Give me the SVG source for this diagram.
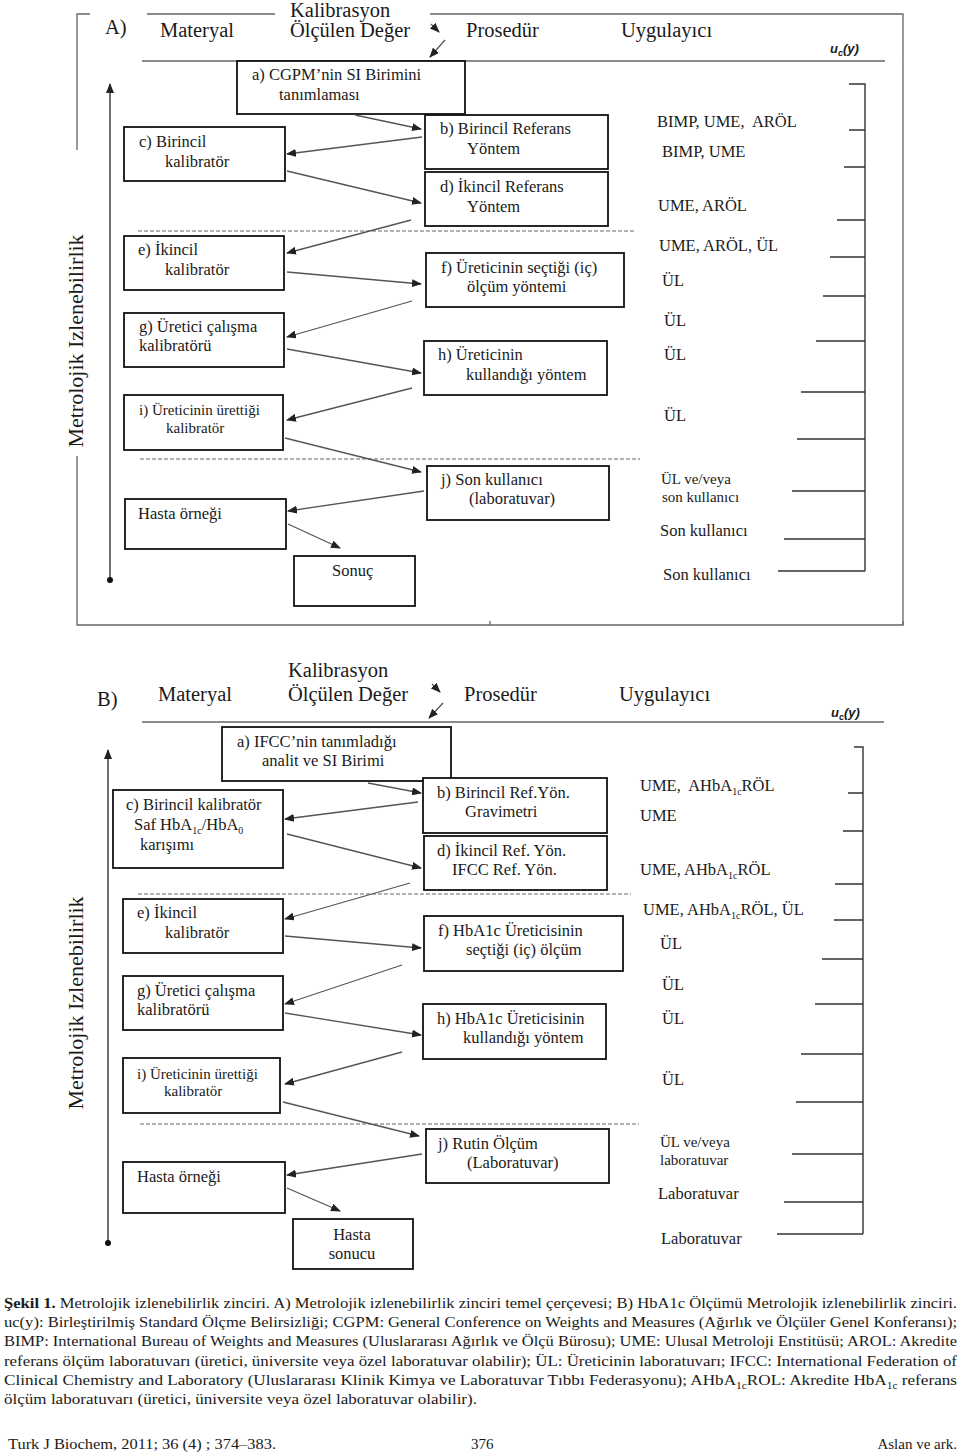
<svg xmlns="http://www.w3.org/2000/svg" width="960" height="1454" viewBox="0 0 960 1454">
<style>
text{font-family:"Liberation Serif","Times New Roman",serif;fill:#1a1a1a}
.h{font-size:20.5px}
.b{font-size:16.5px}
.s{font-size:15px}
.u{font-family:"Liberation Sans",Arial,sans-serif;font-weight:bold;font-style:italic;font-size:13px}
.lab{font-size:22px}
.cap{font-size:15px}
.box{fill:#fff;stroke:#111;stroke-width:1.8}
.conn line{stroke:#555;stroke-width:1.3;marker-end:url(#ah)}
.dash{stroke:#666;stroke-width:1;stroke-dasharray:4 2}
.fr{stroke:#666;stroke-width:1.3;fill:none}
.br{stroke:#333;stroke-width:1.4;fill:none}
.ax{stroke:#333;stroke-width:1.4;marker-end:url(#ah)}
.sub{font-size:10px}
</style>
<defs>
<marker id="ah" markerUnits="userSpaceOnUse" markerWidth="10" markerHeight="8" refX="9" refY="4" orient="auto"><path d="M0,0 L10,4 L0,8 z" fill="#222"/></marker>
</defs>

<!-- ===== Part A frame / header ===== -->
<g id="frameA">
<path class="fr" d="M90,14 H77 V150 M77,456 V625 H903 V14 H430 M147,14 H275 M142,61 H885"/>
<path class="fr" d="M490,625 V621 M903,625 V621"/>
<line class="ax" x1="110" y1="580" x2="110" y2="84"/>
<circle cx="110" cy="580" r="3" fill="#111"/>
<path class="br" d="M849,84 H865 V571 M849,130 H865 M844,167 H865 M837,220 H865 M830,257 H865 M823,296 H865 M816,341 H865 M801,392 H865 M797,439 H865 M792,491 H865 M784,539 H865 M778,571 H865"/>
<line class="dash" x1="138" y1="231" x2="635" y2="231"/>
<line class="dash" x1="140" y1="459" x2="640" y2="459"/>
</g>
<g id="headerA">
<text class="h" x="105" y="34">A)</text>
<text class="h" x="160" y="37">Materyal</text>
<text class="h" x="290" y="17">Kalibrasyon</text>
<text class="h" x="290" y="37">Ölçülen Değer</text>
<text class="h" x="466" y="37">Prosedür</text>
<text class="h" x="621" y="37">Uygulayıcı</text>
<text class="u" x="830" y="53">u<tspan font-size="9" dy="3">c</tspan><tspan dy="-3">(y)</tspan></text>
<text class="lab" transform="translate(83,341) rotate(-90)" text-anchor="middle">Metrolojik Izlenebilirlik</text>
</g>

<g id="A_a"><rect class="box" x="237" y="61" width="228" height="53"/><text class="b" x="252" y="80">a) CGPM’nin SI Birimini</text><text class="b" x="279" y="100">tanımlaması</text></g>
<g id="A_b"><rect class="box" x="425" y="115" width="183" height="54"/><text class="b" x="440" y="134">b) Birincil Referans</text><text class="b" x="467" y="154">Yöntem</text></g>
<g id="A_d"><rect class="box" x="425" y="172" width="183" height="54"/><text class="b" x="440" y="192">d) İkincil Referans</text><text class="b" x="467" y="212">Yöntem</text></g>
<g id="A_c"><rect class="box" x="124" y="127" width="161" height="54"/><text class="b" x="139" y="147">c) Birincil</text><text class="b" x="165" y="167">kalibratör</text></g>
<g id="A_e"><rect class="box" x="124" y="236" width="160" height="54"/><text class="b" x="138" y="255">e) İkincil</text><text class="b" x="165" y="275">kalibratör</text></g>
<g id="A_f"><rect class="box" x="426" y="253" width="198" height="54"/><text class="b" x="441" y="273">f) Üreticinin seçtiği (iç)</text><text class="b" x="467" y="292">ölçüm yöntemi</text></g>
<g id="A_g"><rect class="box" x="124" y="313" width="160" height="54"/><text class="b" x="139" y="332">g) Üretici çalışma</text><text class="b" x="139" y="351">kalibratörü</text></g>
<g id="A_h"><rect class="box" x="424" y="341" width="183" height="54"/><text class="b" x="438" y="360">h) Üreticinin</text><text class="b" x="466" y="380">kullandığı yöntem</text></g>
<g id="A_i"><rect class="box" x="124" y="395" width="159" height="55"/><text class="s" x="139" y="415">i) Üreticinin ürettiği</text><text class="s" x="166" y="433">kalibratör</text></g>
<g id="A_j"><rect class="box" x="427" y="466" width="182" height="54"/><text class="b" x="441" y="485">j) Son kullanıcı</text><text class="b" x="469" y="504">(laboratuvar)</text></g>
<g id="A_hasta"><rect class="box" x="125" y="499" width="161" height="50"/><text class="b" x="138" y="519">Hasta örneği</text></g>
<g id="A_sonuc"><rect class="box" x="294" y="556" width="121" height="50"/><text class="b" x="332" y="576">Sonuç</text></g>

<g id="A_right">
<text class="b" x="657" y="127">BIMP, UME,&#160; ARÖL</text>
<text class="b" x="662" y="157">BIMP, UME</text>
<text class="b" x="658" y="211">UME, ARÖL</text>
<text class="b" x="659" y="251">UME, ARÖL, ÜL</text>
<text class="b" x="662" y="286">ÜL</text>
<text class="b" x="664" y="326">ÜL</text>
<text class="b" x="664" y="360">ÜL</text>
<text class="b" x="664" y="421">ÜL</text>
<text class="s" x="661" y="484">ÜL ve/veya</text>
<text class="s" x="662" y="502">son kullanıcı</text>
<text class="b" x="660" y="536">Son kullanıcı</text>
<text class="b" x="663" y="580">Son kullanıcı</text>
</g>

<!-- ===== Part B ===== -->
<g id="frameB">
<path class="fr" d="M142,722 H884"/>
<line class="ax" x1="108" y1="1243" x2="108" y2="750"/>
<circle cx="108" cy="1243" r="3" fill="#111"/>
<path class="br" d="M854,747 H863 V1234 M848,793 H863 M843,831 H863 M835,884 H863 M834,920 H863 M822,959 H863 M815,1004 H863 M801,1054 H863 M796,1102 H863 M792,1154 H863 M784,1202 H863 M777,1234 H863"/>
<line class="dash" x1="138" y1="894" x2="631" y2="894"/>
<line class="dash" x1="140" y1="1124" x2="639" y2="1124"/>
</g>
<g id="headerB">
<text class="h" x="97" y="706">B)</text>
<text class="h" x="158" y="701">Materyal</text>
<text class="h" x="288" y="677">Kalibrasyon</text>
<text class="h" x="288" y="701">Ölçülen Değer</text>
<text class="h" x="464" y="701">Prosedür</text>
<text class="h" x="619" y="701">Uygulayıcı</text>
<text class="u" x="831" y="717">u<tspan font-size="9" dy="3">c</tspan><tspan dy="-3">(y)</tspan></text>
<text class="lab" transform="translate(83,1003) rotate(-90)" text-anchor="middle">Metrolojik Izlenebilirlik</text>
</g>

<g id="B_a"><rect class="box" x="222" y="727" width="229" height="54"/><text class="b" x="237" y="747">a) IFCC’nin tanımladığı</text><text class="b" x="262" y="766">analit ve SI Birimi</text></g>
<g id="B_b"><rect class="box" x="423" y="778" width="184" height="55"/><text class="b" x="437" y="798">b) Birincil Ref.Yön.</text><text class="b" x="465" y="817">Gravimetri</text></g>
<g id="B_d"><rect class="box" x="424" y="836" width="183" height="54"/><text class="b" x="437" y="856">d) İkincil Ref. Yön.</text><text class="b" x="452" y="875">IFCC Ref. Yön.</text></g>
<g id="B_c"><rect class="box" x="113" y="790" width="170" height="78"/><text class="b" x="126" y="810">c) Birincil kalibratör</text><text class="b" x="134" y="830">Saf HbA<tspan class="sub" dy="4">1c</tspan><tspan dy="-4">/HbA</tspan><tspan class="sub" dy="4">0</tspan></text><text class="b" x="140" y="850">karışımı</text></g>
<g id="B_e"><rect class="box" x="123" y="899" width="160" height="54"/><text class="b" x="137" y="918">e) İkincil</text><text class="b" x="165" y="938">kalibratör</text></g>
<g id="B_f"><rect class="box" x="424" y="916" width="199" height="55"/><text class="b" x="438" y="936">f) HbA1c Üreticisinin</text><text class="b" x="466" y="955">seçtiği (iç) ölçüm</text></g>
<g id="B_g"><rect class="box" x="123" y="976" width="160" height="54"/><text class="b" x="137" y="996">g) Üretici çalışma</text><text class="b" x="137" y="1015">kalibratörü</text></g>
<g id="B_h"><rect class="box" x="423" y="1004" width="183" height="55"/><text class="b" x="437" y="1024">h) HbA1c Üreticisinin</text><text class="b" x="463" y="1043">kullandığı yöntem</text></g>
<g id="B_i"><rect class="box" x="123" y="1058" width="157" height="55"/><text class="s" x="137" y="1079">i) Üreticinin ürettiği</text><text class="s" x="164" y="1096">kalibratör</text></g>
<g id="B_j"><rect class="box" x="426" y="1129" width="183" height="54"/><text class="b" x="438" y="1149">j) Rutin Ölçüm</text><text class="b" x="467" y="1168">(Laboratuvar)</text></g>
<g id="B_hasta"><rect class="box" x="123" y="1162" width="162" height="51"/><text class="b" x="137" y="1182">Hasta örneği</text></g>
<g id="B_sonuc"><rect class="box" x="293" y="1219" width="120" height="50"/><text class="b" x="352" y="1240" text-anchor="middle">Hasta</text><text class="b" x="352" y="1259" text-anchor="middle">sonucu</text></g>

<g id="B_right">
<text class="b" x="640" y="791">UME,&#160; AHbA<tspan class="sub" dy="4">1c</tspan><tspan dy="-4">RÖL</tspan></text>
<text class="b" x="640" y="821">UME</text>
<text class="b" x="640" y="875">UME, AHbA<tspan class="sub" dy="4">1c</tspan><tspan dy="-4">RÖL</tspan></text>
<text class="b" x="643" y="915">UME, AHbA<tspan class="sub" dy="4">1c</tspan><tspan dy="-4">RÖL, ÜL</tspan></text>
<text class="b" x="660" y="949">ÜL</text>
<text class="b" x="662" y="990">ÜL</text>
<text class="b" x="662" y="1024">ÜL</text>
<text class="b" x="662" y="1085">ÜL</text>
<text class="s" x="660" y="1147">ÜL ve/veya</text>
<text class="s" x="660" y="1165">laboratuvar</text>
<text class="b" x="658" y="1199">Laboratuvar</text>
<text class="b" x="661" y="1244">Laboratuvar</text>
</g>

<g id="connectors" class="conn">
<line x1="431" y1="24" x2="439" y2="32"/>
<line x1="445" y1="40" x2="430" y2="57"/>
<line x1="355" y1="115" x2="421" y2="129"/>
<line x1="422" y1="137" x2="287" y2="154"/>
<line x1="287" y1="171" x2="421" y2="203"/>
<line x1="411" y1="220" x2="287" y2="253"/>
<line x1="287" y1="272" x2="421" y2="284"/>
<line x1="412" y1="301" x2="287" y2="337"/>
<line x1="287" y1="349" x2="421" y2="373"/>
<line x1="412" y1="388" x2="287" y2="420"/>
<line x1="285" y1="438" x2="421" y2="472"/>
<line x1="424" y1="491" x2="288" y2="511"/>
<line x1="288" y1="524" x2="340" y2="548"/>
<line x1="432" y1="684" x2="440" y2="692"/>
<line x1="443" y1="703" x2="429" y2="718"/>
<line x1="368" y1="783" x2="421" y2="793"/>
<line x1="418" y1="802" x2="285" y2="819"/>
<line x1="287" y1="834" x2="421" y2="868"/>
<line x1="410" y1="883" x2="285" y2="919"/>
<line x1="285" y1="936" x2="421" y2="948"/>
<line x1="402" y1="965" x2="285" y2="1004"/>
<line x1="285" y1="1013" x2="421" y2="1035"/>
<line x1="402" y1="1052" x2="285" y2="1084"/>
<line x1="283" y1="1102" x2="419" y2="1136"/>
<line x1="422" y1="1154" x2="287" y2="1175"/>
<line x1="287" y1="1188" x2="340" y2="1211"/>
</g>

<g id="caption">
<text class="cap" x="4" y="1308" textLength="953" lengthAdjust="spacingAndGlyphs"><tspan font-weight="bold">Şekil 1.</tspan> Metrolojik izlenebilirlik zinciri. A) Metrolojik izlenebilirlik zinciri temel çerçevesi; B) HbA1c Ölçümü Metrolojik izlenebilirlik zinciri.</text>
<text class="cap" x="4" y="1327" textLength="953" lengthAdjust="spacingAndGlyphs">uc(y): Birleştirilmiş Standard Ölçme Belirsizliği; CGPM: General Conference on Weights and Measures (Ağırlık ve Ölçüler Genel Konferansı);</text>
<text class="cap" x="4" y="1346" textLength="953" lengthAdjust="spacingAndGlyphs">BIMP: International Bureau of Weights and Measures (Uluslararası Ağırlık ve Ölçü Bürosu); UME: Ulusal Metroloji Enstitüsü; AROL: Akredite</text>
<text class="cap" x="4" y="1366" textLength="953" lengthAdjust="spacingAndGlyphs">referans ölçüm laboratuvarı (üretici, üniversite veya özel laboratuvar olabilir); ÜL: Üreticinin laboratuvarı; IFCC: International Federation of</text>
<text class="cap" x="4" y="1385" textLength="953" lengthAdjust="spacingAndGlyphs">Clinical Chemistry and Laboratory (Uluslararası Klinik Kimya ve Laboratuvar Tıbbı Federasyonu); AHbA<tspan class="sub" dy="4">1c</tspan><tspan dy="-4">ROL: Akredite HbA</tspan><tspan class="sub" dy="4">1c</tspan><tspan dy="-4"> referans</tspan></text>
<text class="cap" x="4" y="1404" textLength="473" lengthAdjust="spacingAndGlyphs">ölçüm laboratuvarı (üretici, üniversite veya özel laboratuvar olabilir).</text>
<text class="cap" x="8" y="1449" textLength="268" lengthAdjust="spacingAndGlyphs">Turk J Biochem, 2011; 36 (4) ; 374–383.</text>
<text class="cap" x="471" y="1449">376</text>
<text class="cap" x="957" y="1449" text-anchor="end">Aslan ve ark.</text>
</g>
</svg>
